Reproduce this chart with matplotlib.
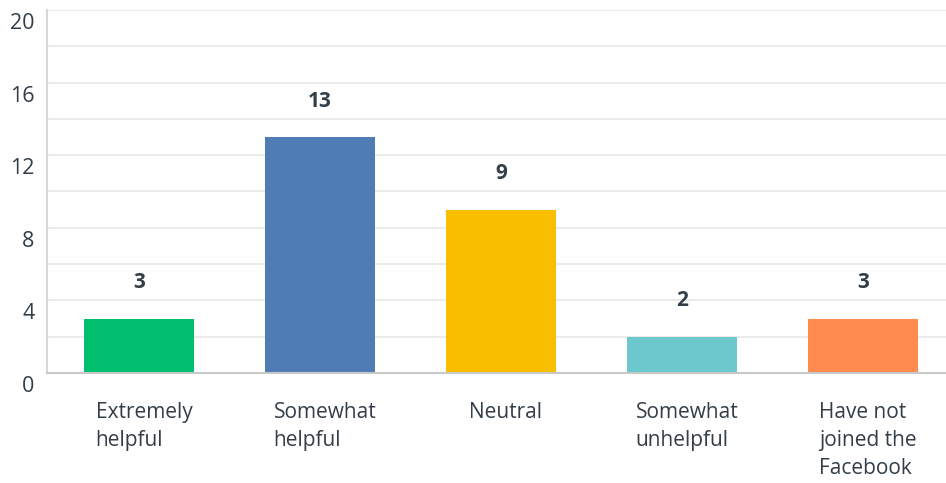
import matplotlib
matplotlib.use("Agg")
import matplotlib.pyplot as plt
from matplotlib.transforms import ScaledTranslation

categories = ["Extremely\nhelpful", "Somewhat\nhelpful", "Neutral",
              "Somewhat\nunhelpful", "Have not\njoined the\nFacebook"]
counts = [3, 13, 9, 2, 3]
colors = ["#00bf6f", "#507cb6", "#f9be00", "#6bc8cd", "#ff8b4f"]
yticks = [0, 4, 8, 12, 16, 20]

plt.rcParams["font.family"] = ["Open Sans", "DejaVu Sans"]
text_color = "#333e48"

fig = plt.figure(figsize=(9.46, 4.83), dpi=100)
ax = fig.add_axes([47 / 946, 110 / 483, 899 / 946, 363 / 483])

x = list(range(len(counts)))
ax.bar(x, counts, width=0.608, color=colors, zorder=3)

for xi, v in zip(x, counts):
    ax.annotate(str(v), (xi, v), xytext=(0, 36), textcoords="offset pixels",
                ha="center", va="center", fontsize=15, fontweight="bold",
                color=text_color)

ax.set_xlim(-0.508, 4.459)
ax.set_ylim(0, 20)
ax.set_yticks(yticks)
ax.set_yticks(range(0, 21, 2), minor=True)
ax.grid(axis="y", which="both", color="#e8e8e8", linewidth=1.2, zorder=0)
ax.tick_params(axis="y", which="both", length=0, pad=9, labelsize=15.5,
               labelcolor=text_color)
ax.set_xticks(x)
ax.set_xticklabels(categories, fontsize=15, color=text_color,
                   multialignment="left", linespacing=1.42)
ax.tick_params(axis="x", length=0, pad=21)

shift = ScaledTranslation(0, -11 / 100, fig.dpi_scale_trans)
for lab in ax.get_yticklabels():
    lab.set_transform(lab.get_transform() + shift)
xshift = ScaledTranslation(5 / 100, 0, fig.dpi_scale_trans)
for lab in ax.get_xticklabels():
    lab.set_transform(lab.get_transform() + xshift)

for s in ["top", "right"]:
    ax.spines[s].set_visible(False)
ax.spines["left"].set_color("#d6d6d6")
ax.spines["left"].set_linewidth(1.5)
ax.spines["bottom"].set_color("#c8c8c8")
ax.spines["bottom"].set_linewidth(1.5)
ax.spines["bottom"].set_zorder(4)

fig.savefig("out.png", dpi=100)
